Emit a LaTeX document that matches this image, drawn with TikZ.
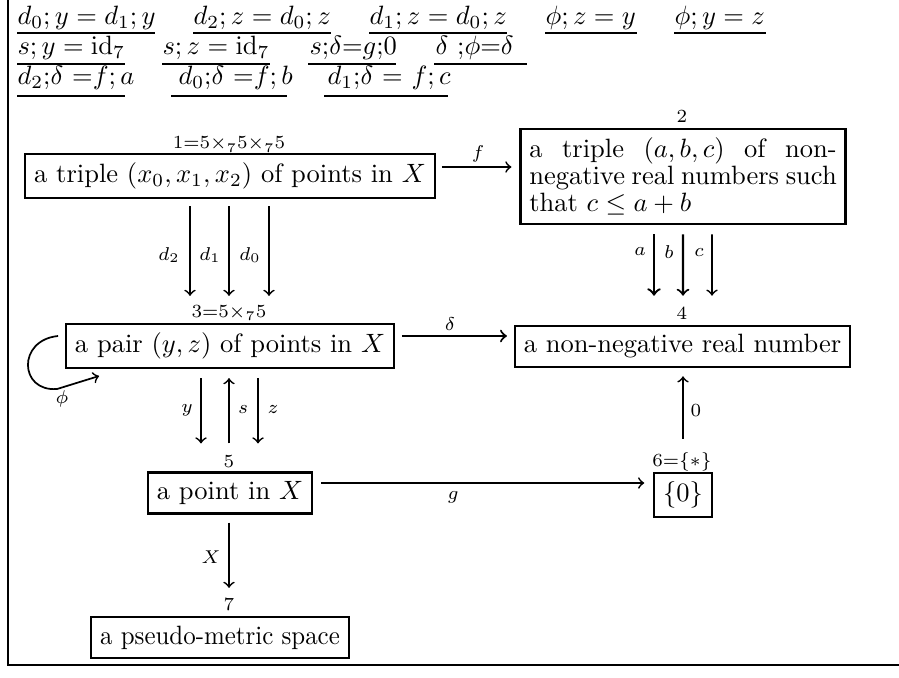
\documentclass[tikz,border=0pt]{standalone}
\usetikzlibrary{calc}
\begin{document}
\begin{tikzpicture}[x=0.37736pt,y=-0.37736pt,
  box/.style={draw,line width=0.8pt,inner sep=3.33pt},
  lab/.style={font=\scriptsize,inner sep=0pt,anchor=base},
  elab/.style={font=\scriptsize,inner sep=0pt},
  arr/.style={->,line width=0.65pt},
  eq/.style={anchor=base west,inner sep=0pt},
  uline/.style={line width=0.75pt},
  frame/.style={line width=0.8pt}]
\useasboundingbox (0,0) rectangle (899,677);
% frame
\draw[frame] (8,0) -- (8,665) -- (899,665);
% equations row 1
\node[eq] (e11) at (17,25) {$d_0;y=d_1;y$};
\node[eq] (e12) at (193,25) {$d_2;z=d_0;z$};
\node[eq] (e13) at (369,25) {$d_1;z=d_0;z$};
\node[eq] (e14) at (545,25) {$\phi;z=y$};
\node[eq] (e15) at (674,25) {$\phi;y=z$};
\draw[uline] (17,33) -- (155,33);
\draw[uline] (193,33) -- (331,33);
\draw[uline] (369,33) -- (507,33);
\draw[uline] (545,33) -- (637,33);
\draw[uline] (674,33) -- (766,33);
% row 2
\node[eq] (e21) at (17,55) {$s;y=\mathrm{id}_7$};
\node[eq] (e22) at (162,55) {$s;z=\mathrm{id}_7$};
\node[eq] (e23) at (309,55) {$s$;$\delta$=$g$;0};
\node[eq] (e24) at (435,55) {$\delta$ ;$\phi$=$\delta$};
\draw[uline] (17,64) -- (125,64);
\draw[uline] (162,64) -- (270,64);
\draw[uline] (308,64) -- (396,64);
\draw[uline] (434,64) -- (527,64);
% row 3
\node[eq] (e31) at (17,85) {$d_2$;$\delta$ =$f;a$};
\node[eq] (e32) at (178,85) {$d_0$;$\delta$ =$f;b$};
\node[eq] (e33) at (327,85) {$d_1$;$\delta$ = $f;c$};
\draw[uline] (17,96) -- (125,96);
\draw[uline] (171,96) -- (287,96);
\draw[uline] (324,96) -- (448,96);
% boxes
\node[box] (n1) at (230,176) {a triple $(x_0,x_1,x_2)$ of points in $X$};
\node[box,text width=116pt,align=justify,font={\fontsize{10}{10.3}\selectfont}] (n2) at (683,176.5)
  {a triple $(a,b,c)$ of non-\linebreak negative real numbers such\linebreak that $c\leq a+b$};
\node[box] (n3) at (230,346) {a pair $(y,z)$ of points in $X$};
\node[box] (n4) at (682.5,346.5) {a non-negative real number};
\node[box] (n5) at (230,493) {a point in $X$};
\node[box] (n6) at (683,495) {$\{0\}$};
\node[box] (n7) at (220,637.5) {\scalebox{0.94}[1]{a pseudo-metric space}};
% box labels
\node[lab] (l1) at (229,149) {$1{=}5{\times}_75{\times}_75$};
\node[lab] (l2) at (682,123) {$2$};
\node[lab] (l3) at (229,317) {$3{=}5{\times}_75$};
\node[lab] (l4) at (682,319.5) {$4$};
\node[lab] (l5) at (229,467) {$5$};
\node[lab] (l6) at (682,466) {$6{=}\{*\}$};
\node[lab] (l7) at (229,610.5) {$7$};
% arrows
\draw[arr] ($(n1.east)+(6,-9)$) -- ($(n2.west)+(-8,-9.5)$);
\draw[arr] ($(n1.south)+(-40,7)$) -- ($(n3.north)+(-40,-27)$);
\draw[arr] ($(n1.south)+(-1,7)$) -- ($(n3.north)+(-1,-27)$);
\draw[arr] ($(n1.south)+(39,7)$) -- ($(n3.north)+(39,-27)$);
\draw[arr,line width=0.9pt] ($(n2.south)+(-29,9)$) -- ($(n4.north)+(-28.5,-29)$);
\draw[arr,line width=0.8pt] ($(n2.south)+(0,9)$) -- ($(n4.north)+(0.5,-29)$);
\draw[arr] ($(n2.south)+(29,9)$) -- ($(n4.north)+(29.5,-29)$);
\draw[arr,line width=0.8pt] ($(n3.east)+(7,-10)$) -- ($(n4.west)+(-7,-10.5)$);
\draw[arr] ($(n3.west)+(-7,-10)$) .. controls ($(n3.west)+(-48,-6)$) and ($(n3.west)+(-46,46)$) .. ($(n3.west)+(-8,43)$) -- ($(n3.west)+(34,30)$);
\draw[arr] ($(n3.south)+(-29,9)$) -- ($(n5.north)+(-29,-28)$);
\draw[arr] ($(n5.north)+(-1,-28)$) -- ($(n3.south)+(-1,9)$);
\draw[arr] ($(n3.south)+(28,9)$) -- ($(n5.north)+(28,-28)$);
\draw[arr] ($(n5.east)+(8,-10)$) -- ($(n6.west)+(-9,-12)$);
\draw[arr] ($(n6.north)+(0,-33)$) -- ($(n4.south)+(0.5,8)$);
\draw[arr] ($(n5.south)+(-1,8)$) -- ($(n7.north)+(9,-28)$);
% edge labels
\node[elab] (lf) at (478,154) {$f$};
\node[elab] (ld2) at (169,255) {$d_2$};
\node[elab] (ld1) at (210,255) {$d_1$};
\node[elab] (ld0) at (250,255) {$d_0$};
\node[elab] (la) at (640,252) {$a$};
\node[elab] (lb) at (669,252) {$b$};
\node[elab] (lc) at (699,253) {$c$};
\node[elab] (ldelta) at (450,324) {$\delta$};
\node[elab] (lphi) at (62,399) {$\phi$};
\node[elab] (ly) at (187,410) {$y$};
\node[elab] (ls) at (243,410) {$s$};
\node[elab] (lz) at (273,410) {$z$};
\node[elab] (lg) at (453,497) {$g$};
\node[elab] (l0) at (696,411) {$0$};
\node[elab] (lX) at (211,557) {$X$};
\end{tikzpicture}
\end{document}
